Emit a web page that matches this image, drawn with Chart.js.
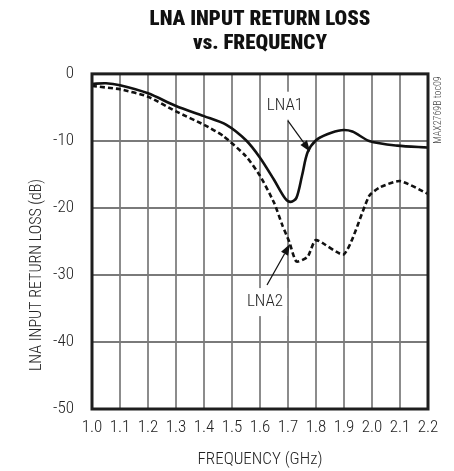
<!DOCTYPE html>
<html>
<head>
<meta charset="utf-8">
<script src="https://cdn.jsdelivr.net/npm/chart.js@4/dist/chart.umd.min.js"></script>
<style>
  html, body { margin: 0; padding: 0; background: #fff; }
  #wrap { width: 454px; height: 471px; }
</style>
</head>
<body>
<div id="wrap"><canvas id="chartRL"></canvas></div>
<script>
var FONT = "'Roboto Condensed', 'Liberation Sans', sans-serif";

// LNA1 (solid)
var lna1Freq = [1.0, 1.05, 1.1, 1.2, 1.3, 1.4, 1.48, 1.55, 1.6, 1.65, 1.69, 1.71, 1.73, 1.75, 1.77, 1.8, 1.84, 1.89, 1.93, 1.99, 2.09, 2.2];
var lna1Loss = [-1.5, -1.4, -1.7, -2.9, -4.8, -6.3, -7.6, -9.9, -12.5, -15.8, -18.6, -19.1, -18.5, -15.2, -11.7, -9.9, -9.0, -8.4, -8.6, -10.0, -10.7, -11.0];

// LNA2 (dashed)
var lna2Freq = [1.0, 1.1, 1.2, 1.3, 1.4, 1.47, 1.55, 1.6, 1.65, 1.68, 1.705, 1.73, 1.77, 1.8, 1.9, 1.99, 2.03, 2.1, 2.2];
var lna2Loss = [-1.8, -2.3, -3.4, -5.6, -7.6, -9.3, -12.3, -15.2, -19.2, -22.6, -25.1, -28.0, -27.3, -24.8, -26.9, -18.2, -16.9, -16.0, -17.9];

var titleLines = ['LNA INPUT RETURN LOSS', 'vs. FREQUENCY'];
var xTitle = 'FREQUENCY (GHz)';
var yTitle = 'LNA INPUT RETURN LOSS (dB)';
var sideNote = 'MAX2769B toc09';

// labels with arrows: text position and arrow tip, in data units
var notes = [
    { text: 'LNA1', tx: 1.689, ty: -4.6, fx: 1.70, fy: -7.0, px: 1.779, py: -11.6 },
    { text: 'LNA2', tx: 1.618, ty: -33.9, fx: 1.625, fy: -31.5, px: 1.707, py: -25.4 }
];

function pairs(xs, ys) {
    return xs.map(function(x, i) { return { x: x, y: ys[i] }; });
}

var extras = {
    id: 'extras',
    afterDatasetsDraw: function(chart) {
        var ctx = chart.ctx;
        var a = chart.chartArea;
        var sx = chart.scales.x, sy = chart.scales.y;
        ctx.save();

        // frame
        ctx.strokeStyle = '#1e1e1e';
        ctx.lineWidth = 3;
        ctx.strokeRect(a.left, a.top, a.right - a.left, a.bottom - a.top);

        // annotations
        ctx.font = '300 17px ' + FONT;
        ctx.textAlign = 'center';
        ctx.textBaseline = 'middle';
        notes.forEach(function(n) {
            var tx = sx.getPixelForValue(n.tx), ty = sy.getPixelForValue(n.ty);
            var w = ctx.measureText(n.text).width;
            ctx.fillStyle = '#fff';
            ctx.fillRect(tx - w / 2 - 4, ty - 13, w + 8, 28);
            ctx.fillStyle = '#222';
            ctx.fillText(n.text, tx, ty + 1);

            var x0 = sx.getPixelForValue(n.fx), y0 = sy.getPixelForValue(n.fy);
            var x1 = sx.getPixelForValue(n.px), y1 = sy.getPixelForValue(n.py);
            var ang = Math.atan2(y1 - y0, x1 - x0);
            var hl = 11, hw = 4;
            ctx.strokeStyle = '#111';
            ctx.lineWidth = 1.2;
            ctx.beginPath();
            ctx.moveTo(x0, y0);
            ctx.lineTo(x1 - Math.cos(ang) * hl, y1 - Math.sin(ang) * hl);
            ctx.stroke();
            ctx.fillStyle = '#111';
            ctx.beginPath();
            ctx.moveTo(x1, y1);
            ctx.lineTo(x1 - Math.cos(ang) * hl - Math.sin(ang) * hw, y1 - Math.sin(ang) * hl + Math.cos(ang) * hw);
            ctx.lineTo(x1 - Math.cos(ang) * hl + Math.sin(ang) * hw, y1 - Math.sin(ang) * hl - Math.cos(ang) * hw);
            ctx.closePath();
            ctx.fill();
        });

        // y axis title (sits lower than the plot centre in the original)
        ctx.save();
        ctx.translate(37, 275);
        ctx.rotate(-Math.PI / 2);
        ctx.font = '300 16px ' + FONT;
        ctx.fillStyle = '#222';
        ctx.fillText(yTitle, 0, 0);
        ctx.restore();

        // side note
        ctx.save();
        ctx.translate(a.right + 10, 110);
        ctx.rotate(-Math.PI / 2);
        ctx.font = '300 10px ' + FONT;
        ctx.fillStyle = '#444';
        ctx.fillText(sideNote, 0, 0);
        ctx.restore();

        ctx.restore();
    }
};

var chartRL = new Chart(document.getElementById('chartRL'), {
    type: 'line',
    data: {
        datasets: [{
            label: 'LNA1',
            data: pairs(lna1Freq, lna1Loss),
            borderColor: '#111',
            borderWidth: 2.6,
            pointRadius: 0,
            tension: 0.3,
            fill: false
        }, {
            label: 'LNA2',
            data: pairs(lna2Freq, lna2Loss),
            borderColor: '#111',
            borderWidth: 2.6,
            borderDash: [5, 3],
            pointRadius: 0,
            tension: 0.2,
            fill: false
        }]
    },
    options: {
        responsive: true,
        maintainAspectRatio: false,
        animation: false,
        layout: { padding: { left: 0, right: 26, top: 0, bottom: 0 } },
        plugins: {
            legend: { display: false },
            tooltip: { enabled: false },
            title: {
                display: true,
                fullSize: false,
                text: titleLines,
                color: '#111',
                font: { family: FONT, size: 21, weight: 900, lineHeight: 1.14 },
                padding: { top: 8, bottom: 18 }
            }
        },
        scales: {
            x: {
                type: 'linear',
                min: 1.0,
                max: 2.2,
                afterFit: function(s) { s.height = 62; },
                ticks: {
                    stepSize: 0.1,
                    padding: 9,
                    color: '#222',
                    maxRotation: 0,
                    autoSkip: false,
                    font: { family: FONT, size: 17, weight: 300 },
                    callback: function(v) { return v.toFixed(1); }
                },
                grid: { color: '#8c8c8c', lineWidth: 2, drawTicks: false },
                border: { display: false },
                title: {
                    display: true,
                    text: xTitle,
                    color: '#222',
                    font: { family: FONT, size: 17, weight: 300 },
                    padding: { top: 0, bottom: 1 }
                }
            },
            y: {
                min: -50,
                max: 0,
                afterFit: function(s) { s.width = 92; },
                ticks: {
                    stepSize: 10,
                    padding: 18,
                    color: '#222',
                    font: { family: FONT, size: 17, weight: 300 }
                },
                grid: { color: '#7a7a7a', lineWidth: 2, drawTicks: false },
                border: { display: false }
            }
        }
    },
    plugins: [extras]
});
</script>
</body>
</html>
